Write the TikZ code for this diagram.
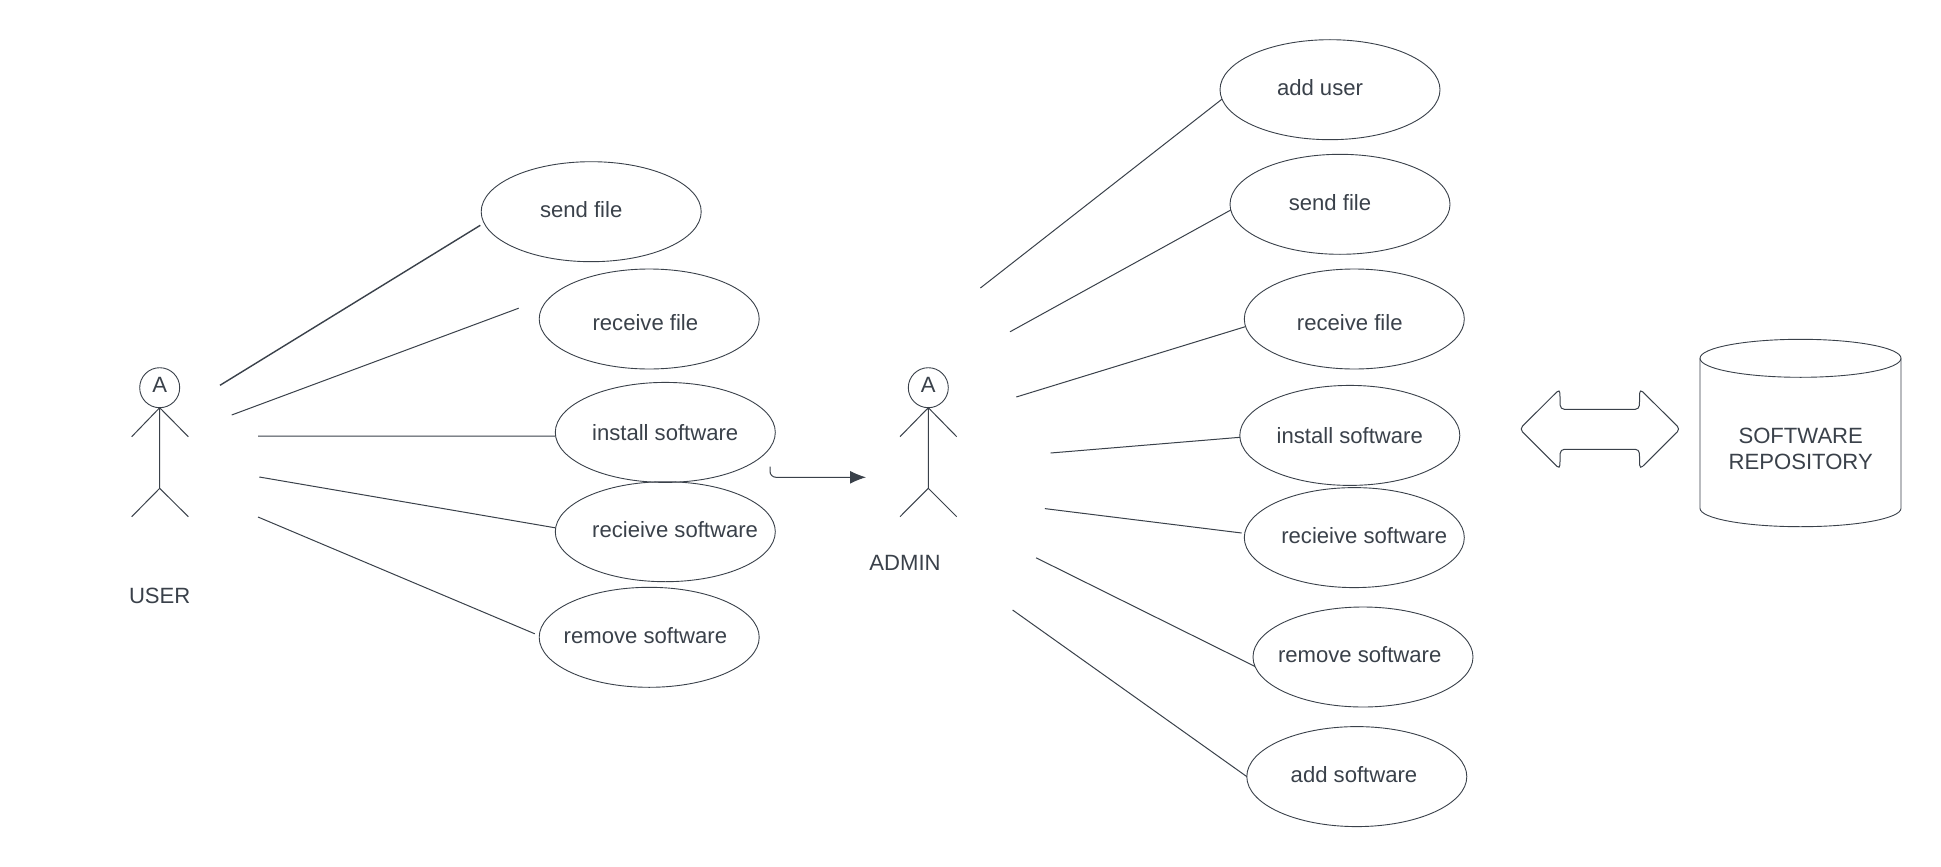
\documentclass[tikz,border=0pt]{standalone}
\usepackage{fontspec}
\setmainfont{Liberation Sans}
\usetikzlibrary{shapes.geometric,arrows.meta}
\definecolor{ink}{HTML}{3A414A}
\tikzset{
  usecase/.style={draw=ink,shape=ellipse,minimum width=220pt,minimum height=100pt,inner sep=0pt,outer sep=0pt,line width=0.9pt},
  lbl/.style={text=ink,font=\fontsize{22.1}{26}\selectfont,inner sep=0pt,align=center},
  link/.style={draw=ink,line width=1pt},
  limb/.style={draw=ink,line width=1pt},
  head/.style={draw=ink,shape=circle,minimum size=40pt,inner sep=0pt,outer sep=0pt,line width=0.9pt},
}
\begin{document}
\begin{tikzpicture}[x=1pt,y=-1pt]
\useasboundingbox[fill=white] (0,0) rectangle (1941,867);
% left use cases
\node[usecase] (ls) at (591.2,211.7) {};
\node[usecase] (lr) at (649.2,319) {};
\node[usecase] (li) at (665.3,432.4) {};
\node[usecase] (lv) at (665.3,531.7) {};
\node[usecase] (lm) at (649.2,637.3) {};
\node[lbl] (tls) at (581.2,209.8) {send file};
\node[lbl] (tlr) at (645.4,322.2) {receive file};
\node[lbl] (tli) at (665.2,433) {install software};
\node[lbl] (tlv) at (675.1,529.8) {recieive software};
\node[lbl] (tlm) at (645.4,635.2) {remove software};
% right use cases
\node[usecase] (ra) at (1330,89.7) {};
\node[usecase] (rs) at (1340,204.3) {};
\node[usecase] (rr) at (1354.3,319) {};
\node[usecase] (ri) at (1349.8,435.4) {};
\node[usecase] (rv) at (1354.3,537.6) {};
\node[usecase] (rm) at (1363,657) {};
\node[usecase] (rw) at (1356.8,776.6) {};
\node[lbl] (tra) at (1320,87.9) {add user};
\node[lbl] (trs) at (1330,203) {send file};
\node[lbl] (trr) at (1349.8,322.2) {receive file};
\node[lbl] (tri) at (1349.8,435.7) {install software};
\node[lbl] (trv) at (1364.2,536) {recieive software};
\node[lbl] (trm) at (1359.7,654.9) {remove software};
\node[lbl] (trw) at (1354,775) {add software};
% user actor
\node[head] (uh) at (159.7,387.7) {};
\node[lbl] (ua) at (159.7,385.2) {A};
\coordinate (uhip) at (159.7,488.3);
\coordinate (ual) at (131.7,436.7);
\coordinate (uar) at (188.3,436.7);
\coordinate (ull) at (131.7,516.7);
\coordinate (ulr) at (188.3,516.7);
\draw[limb] (uh.south) -- (uhip) (ual) -- (uh.south) -- (uar) (ull) -- (uhip) -- (ulr);
\node[lbl] (ut) at (159.7,595.4) {USER};
% admin actor
\node[head] (ah) at (928.3,387.7) {};
\node[lbl] (aa) at (928.3,385.2) {A};
\coordinate (ahip) at (928.3,488.3);
\coordinate (aal) at (900,436.7);
\coordinate (aar) at (956.7,436.7);
\coordinate (all) at (900,516.7);
\coordinate (alr) at (956.7,516.7);
\draw[limb] (ah.south) -- (ahip) (aal) -- (ah.south) -- (aar) (all) -- (ahip) -- (alr);
\node[lbl] (at) at (905,563.3) {ADMIN};
% free ends
\coordinate (u1) at (220,385.3);
\coordinate (u2) at (231.7,415);
\coordinate (u3) at (258,436);
\coordinate (u4) at (259.3,477);
\coordinate (u5) at (258,517);
\coordinate (e1) at (480.3,225.3);
\coordinate (e2) at (518.7,308.2);
\coordinate (e5) at (534.8,633.8);
\coordinate (a1) at (980.4,288);
\coordinate (a2) at (1010,331.8);
\coordinate (a3) at (1016.3,397);
\coordinate (a4) at (1050.6,453);
\coordinate (a5) at (1044.8,508.6);
\coordinate (a6) at (1036.1,557.8);
\coordinate (a7) at (1012.6,610);
\coordinate (f5) at (1241.6,533);
% user links
\draw[link,line width=1.4pt] (u1) -- (e1);
\draw[link] (u2) -- (e2);
\draw[link] (u3) -- (li.182);
\draw[link] (u4) -- (lv.178);
\draw[link] (u5) -- (e5);
% admin links
\draw[link] (a1) -- (ra.185.6);
\draw[link] (a2) -- (rs.183);
\draw[link] (a3) -- (rr.184);
\draw[link] (a4) -- (ri.181);
\draw[link] (a5) -- (f5);
\draw[link] (a6) -- (rm.185);
\draw[link] (a7) -- (rw.180);
% arrow between actors
\coordinate (as) at (770,466.7);
\coordinate (ac) at (770,477.3);
\coordinate (ae) at (866,477.3);
\draw[link,rounded corners=6pt,-{Latex[length=16pt,width=13pt]}] (as) -- (ac) -- (ae);
% double arrow
\draw[ink,line width=1pt,rounded corners=4pt]
  (1519.6,429) -- (1559.8,389) -- (1560.3,409.3) -- (1639.3,409.3) -- (1639.8,389)
  -- (1680.2,429) -- (1639.8,469.2) -- (1639.3,449.3) -- (1560.3,449.3) -- (1559.8,469.2) -- cycle;
% cylinder
\draw[ink,line width=0.9pt] (1700,358.3) arc[x radius=100.5,y radius=19,start angle=180,end angle=-180];
\draw[ink,line width=0.9pt] (1700,358.3) -- (1700,508.3) arc[x radius=100.5,y radius=18.4,start angle=180,end angle=0] -- (1901,358.3);
\node[lbl] (repo) at (1800.7,449) {SOFTWARE\\REPOSITORY};
\end{tikzpicture}
\end{document}
